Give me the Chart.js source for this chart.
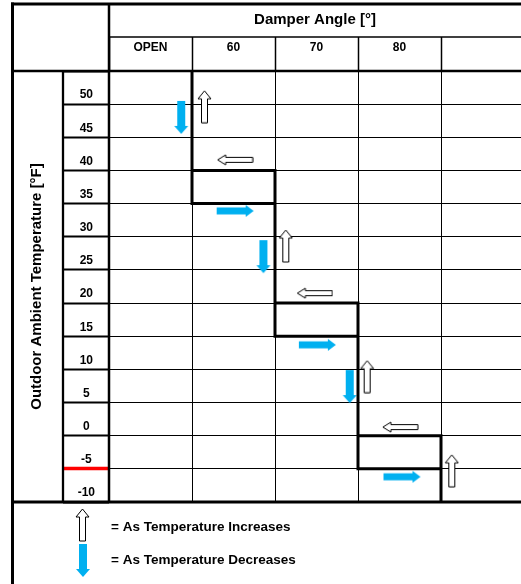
<!DOCTYPE html>
<html>
<head>
<meta charset="utf-8">
<title>Damper Angle vs Outdoor Ambient Temperature</title>
<script src="https://cdn.jsdelivr.net/npm/chart.js"></script>
<style>
  html, body { margin: 0; padding: 0; background: #fff; overflow: hidden; }
  #damperChart { display: block; width: 521px; height: 584px; }
</style>
</head>
<body>
<canvas id="damperChart" width="521" height="584"></canvas>
<script>
/* ---------- DATA ---------- */
// columns of the table (x = column edge index)
const columnLabels = ['OPEN', '60', '70', '80', ''];
const columnEdges = [0, 1, 2, 3, 4];

// rows: each temperature row sits between two edges, 5 °F apart
const rowEdges = [-12.5, -7.5, -2.5, 2.5, 7.5, 12.5, 17.5, 22.5, 27.5, 32.5, 37.5, 42.5, 47.5, 52.5];
const alarmEdge = -7.5; // red mark under -5

// staircase of damper switch points (null = break in the line)
const stepX = [1, 1, 2, 2, 1, null, 2, 2, 3, 3, 2, null, 3, 3, 4, 4, 3, null, 4, 4];
const stepY = [52.5, 32.5, 32.5, 37.5, 37.5, null, 32.5, 12.5, 12.5, 17.5, 17.5, null, 12.5, -7.5, -7.5, -2.5, -2.5, null, -7.5, -12.5];

// arrows
const riseX = [1.15, 2.13, 3.11, 4.13];
const riseY = [47.1, 26.1, 6.4, -7.8];
const fallX = [0.87, 1.86, 2.90];
const fallY = [45.5, 24.5, 4.9];
const backX = [1.52, 2.48, 3.51];
const backY = [39.1, 19.0, -1.2];
const fwdX = [1.52, 2.51, 3.53];
const fwdY = [31.4, 11.2, -8.7];

const BLUE = '#00b0f0';

/* ---------- ARROW IMAGES ---------- */
function makeArrow(dir, len, headW, headLen, shaftW, fill, stroke) {
  const vertical = dir === 'up' || dir === 'down';
  const c = document.createElement('canvas');
  c.width = vertical ? headW + 2 : len + 2;
  c.height = vertical ? len + 2 : headW + 2;
  const g = c.getContext('2d');
  const m = 1, cx = c.width / 2, cy = c.height / 2;
  // local coords: a = along (0 at tip), b = across
  const local = [
    [0, 0], [headLen, headW / 2], [headLen, shaftW / 2], [len, shaftW / 2],
    [len, -shaftW / 2], [headLen, -shaftW / 2], [headLen, -headW / 2]
  ];
  const map = ([a, b]) => {
    if (dir === 'up') return [cx + b, m + a];
    if (dir === 'down') return [cx + b, c.height - m - a];
    if (dir === 'left') return [m + a, cy + b];
    return [c.width - m - a, cy + b];
  };
  g.beginPath();
  local.map(map).forEach(([x, y], i) => (i ? g.lineTo(x, y) : g.moveTo(x, y)));
  g.closePath();
  g.fillStyle = fill;
  g.fill();
  if (stroke) {
    g.strokeStyle = stroke;
    g.lineWidth = 1;
    g.stroke();
  }
  return c;
}

const riseImg = makeArrow('up', 32, 13, 8, 6, '#fff', '#000');
const fallImg = makeArrow('down', 33, 14, 8, 8, BLUE, null);
const backImg = makeArrow('left', 35, 10, 8, 5, '#fff', '#000');
const fwdImg = makeArrow('right', 37, 12, 8, 7, BLUE, null);

const pts = (xs, ys) => xs.map((x, i) => ({ x: x, y: ys[i] }));

/* ---------- FRAME + KEY ---------- */
const tableFrame = {
  id: 'tableFrame',
  afterDraw(chart) {
    const { ctx, scales: { x, y } } = chart;
    const a = chart.chartArea;
    const line = (x1, y1, x2, y2, w) => {
      ctx.beginPath();
      ctx.moveTo(x1, y1);
      ctx.lineTo(x2, y2);
      ctx.lineWidth = w;
      ctx.strokeStyle = '#000';
      ctx.stroke();
    };
    ctx.save();
    const outer = y.left - 0.5;
    const tickCol = y.right - y.options.grid.tickLength;
    const headMid = x.bottom - x.options.grid.tickLength;
    line(outer, x.top - 1.5, outer, chart.height, 3);      // outer left
    line(outer - 1.5, x.top, a.right, x.top, 3);            // top
    line(a.left, headMid, a.right, headMid, 1.3);           // header split
    line(outer, a.top, a.right, a.top, 2.5);                // under header
    line(a.left, x.top, a.left, a.bottom, 2.5);             // left of data
    line(tickCol, a.top, tickCol, a.bottom, 2.3);           // label column
    line(outer, a.bottom, a.right, a.bottom, 3);            // bottom

    // key
    const kx = 82.5;
    ctx.drawImage(riseImg, Math.round(kx - riseImg.width / 2), 508);
    ctx.drawImage(fallImg, Math.round(kx - fallImg.width / 2), 543);
    ctx.fillStyle = '#000';
    ctx.font = 'bold 13.5px "Liberation Sans", Arial, sans-serif';
    ctx.textAlign = 'left';
    ctx.textBaseline = 'alphabetic';
    ctx.fillText('= As Temperature Increases', 111, 531);
    ctx.fillText('= As Temperature Decreases', 111, 564);
    ctx.restore();
  }
};

/* ---------- CHART ---------- */
Chart.defaults.font.family = '"Liberation Sans", Arial, sans-serif';
Chart.defaults.color = '#000';

new Chart(document.getElementById('damperChart'), {
  type: 'scatter',
  data: {
    datasets: [
      {
        data: pts(stepX, stepY),
        showLine: true,
        spanGaps: false,
        borderColor: '#000',
        borderWidth: 3,
        borderCapStyle: 'square',
        borderJoinStyle: 'miter',
        pointRadius: 0
      },
      { data: pts(riseX, riseY), pointStyle: riseImg, pointRadius: 1 },
      { data: pts(fallX, fallY), pointStyle: fallImg, pointRadius: 1 },
      { data: pts(backX, backY), pointStyle: backImg, pointRadius: 1 },
      { data: pts(fwdX, fwdY), pointStyle: fwdImg, pointRadius: 1 }
    ]
  },
  options: {
    responsive: false,
    animation: false,
    events: [],
    layout: { autoPadding: false, padding: { left: 13, top: 4, right: 0, bottom: 82 } },
    plugins: { legend: { display: false }, tooltip: { enabled: false } },
    scales: {
      x: {
        type: 'linear',
        position: 'top',
        min: 0,
        max: 412 / 83,
        afterBuildTicks: s => { s.ticks = columnEdges.map(v => ({ value: v })); },
        afterFit: s => { s.height = 67; },
        border: { display: false },
        grid: { color: '#000', lineWidth: 1, tickLength: 34, tickColor: '#000', tickWidth: 1.5 },
        ticks: {
          autoSkip: false,
          maxRotation: 0,
          padding: -18,
          labelOffset: 41.5,
          font: { size: 12, weight: 'bold' },
          callback: (v, i) => columnLabels[i]
        },
        title: {
          display: true,
          text: 'Damper Angle [°]',
          font: { size: 15, weight: 'bold' },
          padding: { top: 7, bottom: 0 }
        }
      },
      y: {
        type: 'linear',
        min: -12.5,
        max: 52.5,
        afterBuildTicks: s => { s.ticks = rowEdges.map(v => ({ value: v })); },
        afterFit: s => { s.width = 96; },
        border: { display: false },
        grid: {
          color: '#000',
          lineWidth: 1,
          tickLength: 46,
          tickColor: c => (c.tick && c.tick.value === alarmEdge ? '#ff0000' : '#000'),
          tickWidth: c => (c.tick && c.tick.value === alarmEdge ? 3.5 : 2)
        },
        ticks: {
          autoSkip: false,
          crossAlign: 'center',
          padding: -32,
          labelOffset: -9,
          font: { size: 12, weight: 'bold' },
          callback: v => (v >= 52.5 ? '' : String(v + 2.5))
        },
        title: {
          display: true,
          text: 'Outdoor Ambient Temperature [°F]',
          font: { size: 15, weight: 'bold' },
          padding: { top: 15, bottom: 0 }
        }
      }
    }
  },
  plugins: [tableFrame]
});
</script>
</body>
</html>
